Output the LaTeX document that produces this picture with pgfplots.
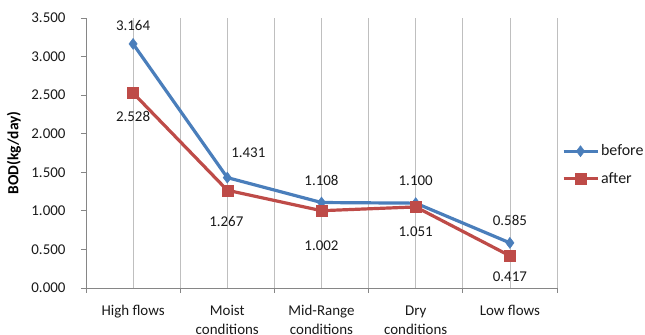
\documentclass[border=0pt]{standalone}
\usepackage{fontspec}
\setmainfont{Carlito}
\usepackage{pgfplots}
\pgfplotsset{compat=1.18}
\usepackage{pgfplotstable}
\definecolor{cblue}{HTML}{4A7EBB}
\definecolor{cred}{HTML}{BE4B48}
\definecolor{cgrid}{HTML}{BFBFBF}
\definecolor{caxis}{HTML}{868686}
\pgfplotstableread{
x y dx dy
0 3.164 0 18
1 1.431 21 25
2 1.108 0 22
3 1.100 0 22
4 0.585 0 22
}\before
\pgfplotstableread{
x y dx dy
0 2.528 0 -23
1 1.267 -1 -31
2 1.002 0 -35
3 1.051 0 -25
4 0.417 0 -21
}\after
\begin{document}
\begin{tikzpicture}
\useasboundingbox (-86bp,-47bp) rectangle (559bp,288bp);
\begin{axis}[
  at={(0,0)}, anchor=south west, scale only axis,
  width=471bp, height=270bp,
  xmin=-0.5, xmax=4.5, ymin=0, ymax=3.5,
  axis x line*=bottom, axis y line*=left,
  axis line style={caxis, line width=0.8bp},
  xtick={0,1,2,3,4},
  xticklabels={High flows, Moist\\conditions, Mid-Range\\conditions, Dry\\conditions, Low flows},
  minor xtick={-0.5,0.5,1.5,2.5,3.5,4.5},
  ytick={0,0.5,...,3.5},
  tick align=outside,
  major tick length=5bp, minor tick length=5bp,
  major x tick style={draw=none},
  minor x tick style={caxis, line width=0.8bp},
  y tick style={caxis, line width=0.8bp},
  xmajorgrids, xminorgrids,
  major grid style={cgrid, line width=0.8bp},
  minor grid style={cgrid, line width=0.8bp},
  /pgf/number format/assume math mode=true,
  yticklabel style={/pgf/number format/.cd, fixed, fixed zerofill, precision=3, /tikz/.cd, xshift=-12bp},
  ticklabel style={font=\fontsize{15}{19}\selectfont, text=black!90},
  xticklabel style={align=center, yshift=-9bp},
  every axis y label/.style={at={(axis description cs:-0.1529,0.5)}, rotate=90, anchor=center, font=\fontsize{15.5}{18}\selectfont\bfseries},
  ylabel={BOD(kg/day)},
  legend style={draw=none, fill=none, at={(axis description cs:1.01,0.456)}, anchor=west,
    font=\fontsize{16}{18}\selectfont, row sep=11bp, inner sep=0pt, text=black!90},
  legend cell align=left,
  legend image code/.code={\draw[mark repeat=2,mark phase=2] plot coordinates {(0bp,0bp)(17bp,0bp)(34bp,0bp)};},
  visualization depends on={\thisrow{dx} \as \dx},
  visualization depends on={\thisrow{dy} \as \dy},
  nodes near coords={\pgfmathprintnumber[fixed,fixed zerofill,precision=3]{\pgfplotspointmeta}},
  every node near coord/.append style={anchor=center, xshift=\dx bp, yshift=\dy bp, font=\fontsize{15}{18}\selectfont, text=black!90},
]
\addplot[cblue, line width=3.2bp, mark=diamond*, mark size=5.5bp, mark options={fill=cblue, line width=0.5bp}] table[x=x,y=y] {\before};
\addplot[cred, line width=3.2bp, mark=square*, mark size=5.5bp, mark options={fill=cred, line width=0.5bp}] table[x=x,y=y] {\after};
\legend{before, after}
\end{axis}
\end{tikzpicture}
\end{document}
